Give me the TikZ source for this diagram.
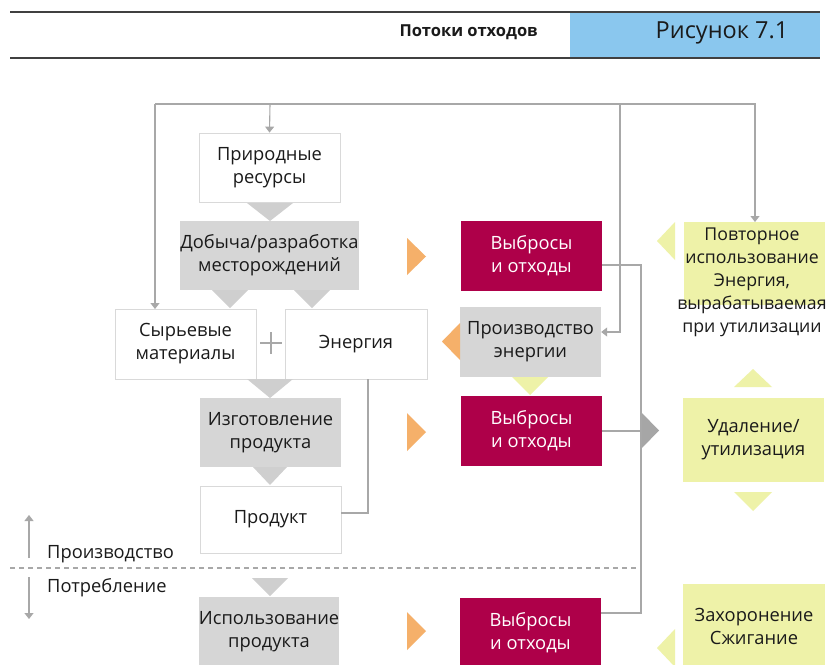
\documentclass[tikz,border=0pt]{standalone}
\usepackage{fontspec}
\setmainfont{Open Sans}
\usetikzlibrary{arrows.meta}
\definecolor{crim}{HTML}{AE0049}
\definecolor{orng}{HTML}{F5B06A}
\definecolor{yel}{HTML}{EEF2A8}
\definecolor{gbox}{HTML}{D6D6D6}
\definecolor{gtri}{HTML}{CFCFCF}
\definecolor{gline}{HTML}{A8A8A8}
\definecolor{bline}{HTML}{D9D9D9}
\definecolor{hblue}{HTML}{8AC7EE}
\definecolor{txt}{HTML}{1A1A1A}
\newcommand{\dfont}{\fontsize{18.3}{23}\selectfont}
\begin{document}
\begin{tikzpicture}[x=1pt,y=-1pt,
  base/.style={inner sep=0pt, minimum width=141pt, minimum height=70pt, align=center, font=\dfont, text=txt},
  wbox/.style={base, draw=bline, fill=white, line width=0.8pt},
  gbx/.style={base, fill=gbox},
  cbox/.style={base, fill=crim, text=white},
  ybox/.style={base, fill=yel},
  conn/.style={draw=gline, line width=1.1pt},
  tip/.style={-{Triangle[width=9pt,length=6pt]}}
]
\clip (0,0) rectangle (827,664);
\fill[white] (0,0) rectangle (827,664);
% header
\fill[hblue] (570,13) rectangle (820,57);
\draw[line width=1.6pt, draw=black!75] (10,12) -- (820,12);
\draw[line width=1.6pt, draw=black!75] (10,58) -- (820,58);
\node[anchor=east, inner sep=0pt, font=\bfseries\fontsize{16.5}{19}\selectfont, text=txt] (htitle) at (538,32) {Потоки отходов};
\node[font=\fontsize{23.5}{27}\selectfont, text=txt, inner sep=0pt] (hfig) at (722,33) {Рисунок 7.1};

% boxes
\node[wbox, minimum height=69pt] (nat) at (269.5,167.5) {Природные\\ресурсы};
\node[gbx, minimum height=69pt] (mine) at (269.5,255.5) {Добыча/разработка\\месторождений};
\node[wbox] (raw) at (185.5,344) {Сырьевые\\материалы};
\node[wbox, minimum width=142pt] (energy) at (356,344) {Энергия};
\node[gbx, minimum height=69pt] (make) at (270.5,432.5) {Изготовление\\продукта};
\node[wbox, minimum height=67pt] (prod) at (270.5,519.5) {Продукт};
\node[gbx, minimum width=138pt] (use) at (269,632) {Использование\\продукта};

\node[cbox] (em1) at (531.5,256) {Выбросы\\и отходы};
\node[gbx] (pe) at (530.5,342) {Производство\\энергии};
\node[cbox] (em2) at (531.5,431) {Выбросы\\и отходы};
\node[cbox] (em3) at (530.5,633) {Выбросы\\и отходы};

\fill[yel] (684,222) rectangle (825,305);
\node[align=center, font=\fontsize{17.7}{23}\selectfont, text=txt, inner sep=0pt] (reuse) at (752,282) {Повторное\\использование\\Энергия,\\вырабатываемая\\при утилизации};
\node[ybox, minimum height=84pt] (disp) at (753.5,440) {Удаление/\\утилизация};
\node[ybox, minimum width=142pt, minimum height=84pt] (bury) at (754,626) {Захоронение\\Сжигание};

% plus sign
\draw[gline, line width=1.6pt] (260,343) -- (282,343) (271,332) -- (271,354);

% triangles
\fill[gtri] (247,203) -- (293,203) -- (270,221) -- cycle;
\fill[gtri] (212,290) -- (248,290) -- (230,308) -- cycle;
\fill[gtri] (294,290) -- (330,290) -- (312,308) -- cycle;
\fill[gtri] (247,379) -- (293,379) -- (270,398) -- cycle;
\fill[gtri] (253,467) -- (287,467) -- (270,485) -- cycle;
\fill[gtri] (252,578) -- (288,578) -- (270,596) -- cycle;
\fill[orng] (407,238) -- (407,275) -- (426,256.5) -- cycle;
\fill[orng] (407,413) -- (407,451) -- (426,432) -- cycle;
\fill[orng] (407,612) -- (407,650) -- (426,631) -- cycle;
\fill[orng] (460,323) -- (460,360) -- (442,341.5) -- cycle;
\fill[yel] (512,377) -- (548,377) -- (530,395) -- cycle;
\fill[black!35] (641,412) -- (641,449) -- (659,430.5) -- cycle;
\fill[yel] (675,222) -- (675,260) -- (657,241) -- cycle;
\fill[yel] (675,629) -- (675,667) -- (657,648) -- cycle;
\fill[yel] (734,387) -- (772,387) -- (753,369) -- cycle;
\fill[yel] (734,492) -- (772,492) -- (753,511) -- cycle;

% feedback connectors
\coordinate (tl) at (155,104);
\coordinate (tr) at (755,104);
\coordinate (tn) at (270,104);
\coordinate (tp) at (620,104);
\coordinate (pc) at (620,332);
\coordinate (rtop) at (755,222);
\coordinate (rawtop) at (155,309);
\draw[conn, tip] (tl) -- (tr) -- (rtop);
\draw[conn, tip] (tl) -- (rawtop);
\draw[conn, tip] (tn) -- (nat.north);
\draw[conn, tip] (tp) -- (pc) -- (pe.east |- pc);

% waste connectors
\coordinate (wr) at (641,265);
\coordinate (wb) at (641,613);
\draw[conn] (em1.east |- wr) -- (wr) -- (wb) -- (em3.east |- wb);
\draw[conn] (em2.east) -- (em2.east -| wr);
% energy to product
\coordinate (ee) at (368,513);
\draw[conn] (energy.south -| ee) -- (ee) -- (prod.east |- ee);

% production / consumption
\draw[gline, line width=1.8pt, dash pattern=on 5pt off 4pt] (10,568) -- (638,568);
\coordinate (upt) at (29,515);
\coordinate (upb) at (29,558);
\coordinate (dnt) at (29,577);
\coordinate (dnb) at (29,619);
\draw[conn, tip] (upb) -- (upt);
\draw[conn, tip] (dnt) -- (dnb);
\node[anchor=base west, font=\dfont, text=txt, inner sep=0pt] (lprod) at (47,558) {Производство};
\node[anchor=base west, font=\dfont, text=txt, inner sep=0pt] (lcons) at (47,592) {Потребление};
\end{tikzpicture}
\end{document}
